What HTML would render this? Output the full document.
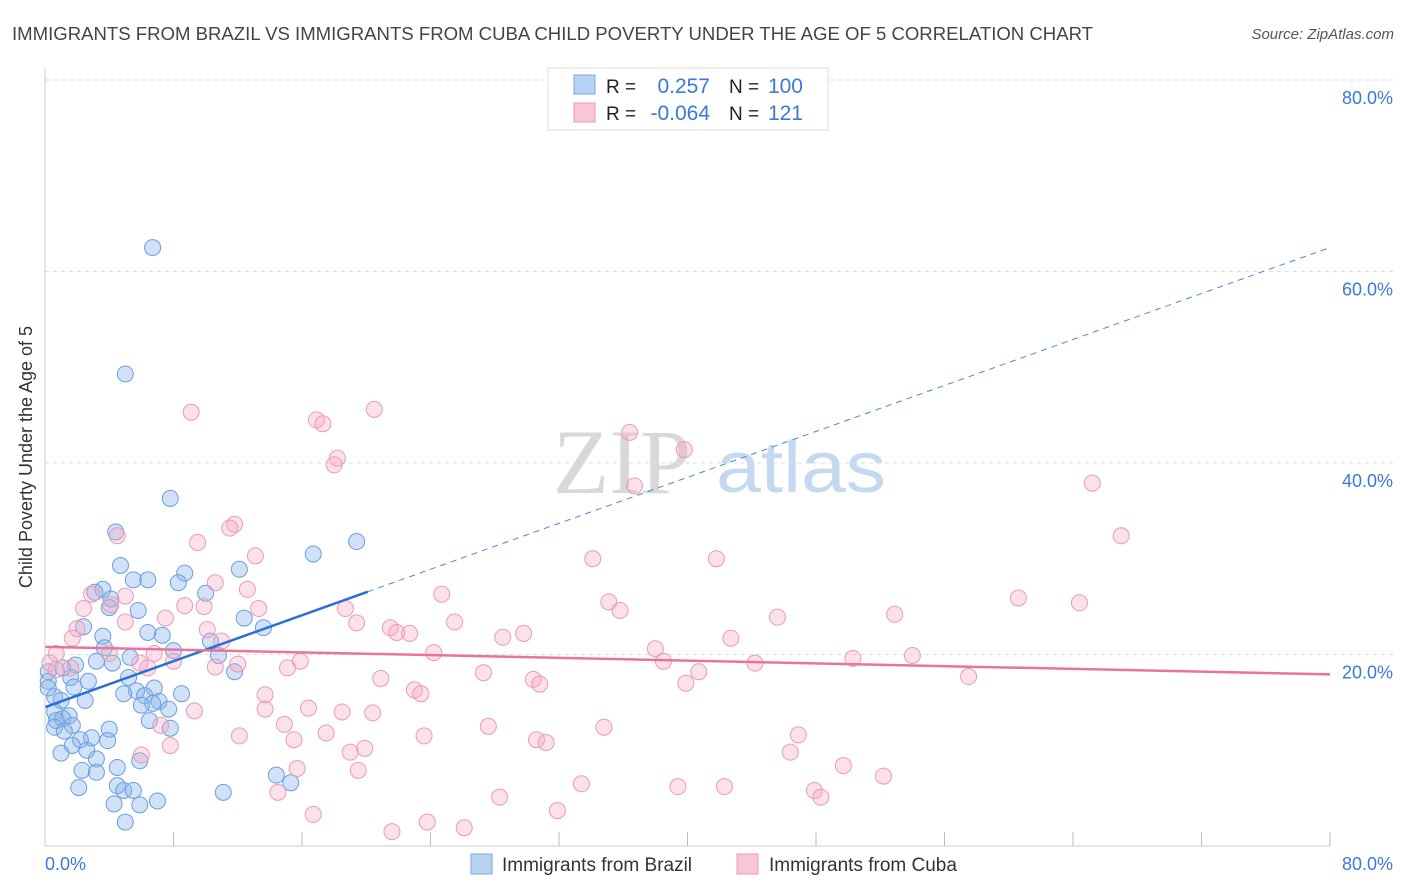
<!DOCTYPE html>
<html><head><meta charset="utf-8"><style>
body{margin:0;background:#fff;font-family:"Liberation Sans",sans-serif;}
svg{display:block}
</style></head><body>
<svg id="chart" width="1406" height="892">
<text x="12" y="40" font-size="18" fill="#444" textLength="1081" lengthAdjust="spacingAndGlyphs">IMMIGRANTS FROM BRAZIL VS IMMIGRANTS FROM CUBA CHILD POVERTY UNDER THE AGE OF 5 CORRELATION CHART</text>
<text x="1394" y="39" font-size="15" fill="#555" font-style="italic" text-anchor="end">Source: ZipAtlas.com</text>
<text x="32" y="457" font-size="18" fill="#333" text-anchor="middle" transform="rotate(-90 32 457)">Child Poverty Under the Age of 5</text>
<g>
<text x="553" y="493" font-size="92" font-family="Liberation Serif,serif" fill="#d8d8d8">ZIP</text>
<text x="716" y="492" font-size="72" fill="#c4d8f0" textLength="170" lengthAdjust="spacingAndGlyphs">atlas</text>
</g>
<g id="grid"></g><g id="ticks"></g><g id="pts"></g><g id="lines"></g>
<line x1="45" y1="68" x2="45" y2="846" stroke="#ccc"/>
<line x1="45" y1="846" x2="1330" y2="846" stroke="#ccc"/>
<text x="45" y="870" font-size="18" fill="#3b78d8">0.0%</text>
<text x="1393" y="870" font-size="18" fill="#3b78d8" text-anchor="end">80.0%</text>
<g>
<rect x="548" y="68" width="280" height="62" fill="#fff" stroke="#ddd"/>
<rect x="574" y="75" width="21" height="19" fill="#b8d2f4" stroke="#7aa8e8"/>
<rect x="574" y="103" width="21" height="19" fill="#f9c6d6" stroke="#ec9ab5"/>
<text x="606" y="93" font-size="19" fill="#222">R =</text>
<text x="710" y="93" font-size="21" fill="#3b78d8" text-anchor="end">0.257</text>
<text x="729" y="93" font-size="19" fill="#222">N =</text>
<text x="803" y="93" font-size="21" fill="#3b78d8" text-anchor="end">100</text>
<text x="606" y="120" font-size="19" fill="#222">R =</text>
<text x="710" y="120" font-size="21" fill="#3b78d8" text-anchor="end">-0.064</text>
<text x="729" y="120" font-size="19" fill="#222">N =</text>
<text x="803" y="120" font-size="21" fill="#3b78d8" text-anchor="end">121</text>
</g>
<g>
<rect x="471" y="854" width="21" height="20" fill="#b8d2f4" stroke="#7aa8e8"/>
<text x="502" y="871" font-size="19" fill="#333">Immigrants from Brazil</text>
<rect x="737" y="854" width="21" height="20" fill="#f9c6d6" stroke="#ec9ab5"/>
<text x="769" y="871" font-size="19" fill="#333">Immigrants from Cuba</text>
</g>
</svg>
<script>
const yTicks=[20,40,60,80];
const xTicks=[0,8,16,24,32,40,48,56,64,72,80];
const brazilX=[6.7,5.0,7.8,4.4,19.4,16.7,4.7,12.1,8.7,5.5,6.4,8.3,3.6,3.1,10.0,4.1,4.0,5.8,12.4,2.4,13.6,6.4,7.3,3.6,10.3,3.7,8.0,10.8,5.3,3.2,4.2,1.9,1.1,0.2,11.8,5.2,1.6,2.7,0.2,6.8,5.7,1.8,4.9,8.5,6.2,0.6,1.0,2.5,7.1,6.7,6.0,7.7,0.6,1.5,1.1,0.7,6.5,1.7,4.0,7.8,0.6,1.2,2.9,2.2,3.9,1.7,2.6,1.0,3.2,5.9,4.5,2.3,3.2,14.4,15.3,4.5,4.9,5.5,2.1,11.1,7.0,5.9,4.3,5.0,0.2];
const brazilY=[62.5,49.3,36.3,32.8,31.8,30.5,29.3,28.9,28.5,27.8,27.8,27.5,26.8,26.5,26.4,25.8,24.9,24.6,23.8,22.9,22.8,22.3,22.0,21.9,21.4,20.7,20.4,19.9,19.7,19.3,19.1,18.9,18.6,18.2,18.2,17.6,17.6,17.2,17.2,16.5,16.2,16.6,15.9,15.9,15.7,15.6,15.2,15.2,15.1,14.9,14.7,14.3,14.0,13.6,13.3,13.1,13.1,12.6,12.2,12.3,12.4,12.0,11.3,11.1,11.0,10.5,10.0,9.7,9.1,8.9,8.2,7.9,7.7,7.4,6.6,6.3,5.8,5.8,6.1,5.6,4.7,4.3,4.4,2.5,16.5];
const cubaX=[20.5,9.1,16.9,17.3,36.4,18.2,18.0,39.8,36.7,65.2,67.0,11.8,11.5,4.5,9.5,13.1,34.1,41.8,10.6,5.0,12.6,24.7,60.6,64.4,35.1,35.8,2.9,8.7,18.7,13.3,9.9,2.4,4.1,52.9,45.6,7.5,5.0,25.5,19.4,21.5,21.9,22.7,29.8,28.5,2.0,10.1,1.7,11.0,42.7,24.2,38.0,54.0,50.3,38.5,44.2,0.7,6.8,4.0,0.3,15.9,8.0,5.9,6.4,1.6,12.0,10.6,15.1,27.3,40.7,30.4,30.8,39.9,20.9,57.5,23.0,23.4,13.7,9.3,13.7,16.4,20.4,18.5,14.9,7.2,27.6,34.8,17.5,23.6,12.1,15.5,30.6,31.2,46.9,7.8,19.9,19.0,46.4,6.0,15.7,19.5,49.7,52.2,33.4,39.4,42.3,47.9,48.3,14.5,28.3,31.9,16.7,23.8,21.6,26.1,0.7];
const cubaY=[45.6,45.3,44.5,44.1,43.2,40.5,39.8,41.4,37.6,37.9,32.4,33.6,33.2,32.4,31.7,30.3,30.0,30.0,27.5,26.1,26.8,26.3,25.9,25.4,25.5,24.6,26.3,25.1,24.8,24.8,25.0,24.8,25.2,24.2,23.9,23.8,23.4,23.4,23.3,22.8,22.3,22.2,22.2,21.8,22.7,22.6,21.7,21.4,21.7,20.2,20.6,19.9,19.6,19.3,19.1,20.1,20.1,20.1,19.1,19.3,19.3,19.1,18.6,18.6,19.0,18.7,18.6,18.1,18.2,17.4,16.9,17.0,17.5,17.7,16.3,15.9,15.8,14.1,14.3,14.4,13.9,14.0,12.7,12.6,12.5,12.4,11.8,11.5,11.5,11.1,11.1,10.8,11.6,10.5,10.2,9.8,9.8,9.5,8.1,7.9,8.4,7.3,6.5,6.2,6.2,5.8,5.1,5.6,5.1,3.7,3.3,2.5,1.5,1.9,18.4];
const brazilTrend=[14.5,0.60];
const cubaTrend=[20.8,-0.036];
const NS='http://www.w3.org/2000/svg';
const sx=v=>45+v*(1285/80);
const sy=v=>846-v*9.575;
function mk(tag,attrs,parent){const e=document.createElementNS(NS,tag);for(const k in attrs)e.setAttribute(k,attrs[k]);document.getElementById(parent).appendChild(e);return e;}
yTicks.forEach(t=>{
 const l=mk('line',{x1:45,x2:1393,y1:sy(t),y2:sy(t),stroke:'#ddd','stroke-dasharray':'4 4'},'grid');
 
 
 const tx=mk('text',{x:1393,y:sy(t)+24,'font-size':18,fill:'#3b78d8','text-anchor':'end'},'grid');
 tx.textContent=t.toFixed(1)+'%';
 
 
});
xTicks.forEach(t=>{
 const l=mk('line',{x1:sx(t),x2:sx(t),y1:832,y2:846,stroke:'#bbb'},'ticks');
 
 
});
brazilX.forEach((v,i)=>{
 const c=mk('circle',{cx:sx(v),cy:sy(brazilY[i]),r:8,fill:'rgba(140,180,235,0.4)',stroke:'#6a9fe0','stroke-width':1},'pts');
 
 
});
cubaX.forEach((v,i)=>{
 const c=mk('circle',{cx:sx(v),cy:sy(cubaY[i]),r:8,fill:'rgba(245,170,195,0.35)',stroke:'#ec9ab5','stroke-width':1},'pts');
 
 
});
const bf=x=>brazilTrend[0]+brazilTrend[1]*x;
let l1=mk('line',{x1:sx(0),y1:sy(bf(0)),x2:sx(20.1),y2:sy(bf(20.1)),stroke:'#2a6fd6','stroke-width':2.5},'lines');


let l2=mk('line',{x1:sx(20.1),y1:sy(bf(20.1)),x2:sx(80),y2:sy(bf(80)),stroke:'#4a85de','stroke-width':1,'stroke-dasharray':'6 5'},'lines');


const cf=x=>cubaTrend[0]+cubaTrend[1]*x;
let l3=mk('line',{x1:sx(0),y1:sy(cf(0)),x2:sx(80),y2:sy(cf(80)),stroke:'#e8739c','stroke-width':2.5},'lines');


</script>
</body></html>
